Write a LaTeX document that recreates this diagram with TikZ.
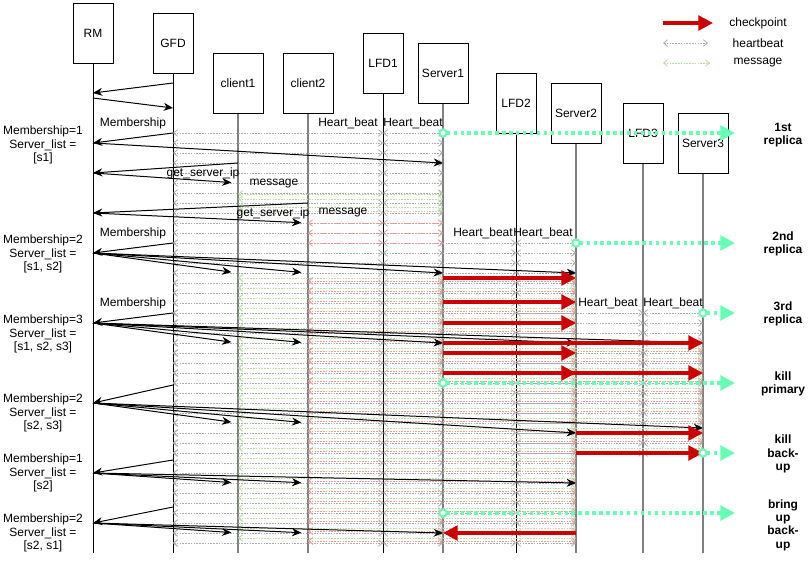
\documentclass[tikz,border=0pt]{standalone}
\usepackage{fontspec}
\setmainfont{Liberation Sans}
\usetikzlibrary{arrows.meta}
\definecolor{ckred}{HTML}{CC0000}
\definecolor{mint}{HTML}{66FFB3}
\definecolor{msggreen}{HTML}{B9E0A5}
\definecolor{msgpink}{HTML}{F19C99}
\tikzset{
  proc/.style={draw, minimum width=30pt, minimum height=45pt, inner sep=0pt, line width=0.75pt, font=\fontsize{9}{10}\selectfont},
  procw/.style={proc, minimum width=37.5pt},
  life/.style={line width=0.75pt},
  lifeg/.style={line width=1.5pt, draw=gray},
  msg/.style={-{Stealth[length=7pt,width=6pt]}, line width=0.75pt},
  msgc/.style={msg, shorten >=5pt},
  hb/.style={{Straight Barb[length=3pt,width=5pt,line width=0.6pt]}-{Straight Barb[length=3pt,width=5pt,line width=0.6pt]}, draw=gray!65, dash pattern=on 1.2pt off 0.9pt, line width=0.7pt},
  clgreen/.style={hb, draw=msggreen},
  clpink/.style={hb, draw=msgpink},
  ckpt/.style={-{Triangle[length=11pt,width=11pt]}, line width=2.6pt, draw=ckred},
  repl/.style={{Circle[length=7pt,line width=1.5pt,fill=white]}-{Triangle[length=11pt,width=11pt]}, dash pattern=on 2.6pt off 2.6pt, line width=2.6pt, draw=mint, shorten <=-3.5pt},
  lbl/.style={font=\fontsize{9}{10}\selectfont, inner sep=1pt},
  side/.style={lbl, align=center},
  tag/.style={font=\fontsize{9}{10}\selectfont\bfseries, align=center}
}
\begin{document}
\begin{tikzpicture}[x=0.75pt, y=-0.75pt]
\useasboundingbox (0,0) rectangle (809,561);
% participants
\node[proc]  (rm)   at (93,33)   {RM};
\node[proc]  (gfd)  at (173,43)  {GFD};
\node[procw] (c1)   at (238,83)  {client1};
\node[procw] (c2)   at (308,83)  {client2};
\node[proc]  (lfd1) at (383,63)  {LFD1};
\node[procw] (s1)   at (443,73)  {Server1};
\node[proc]  (lfd2) at (516,103) {LFD2};
\node[procw] (s2)   at (576,113) {Server2};
\node[proc]  (lfd3) at (643,133) {LFD3};
\node[procw] (s3)   at (703,143) {Server3};
% lifelines
\foreach \p in {rm,gfd,lfd1,lfd2}
  \draw[life] (\p.south) -- (\p |- 0,553);
\foreach \p in {c1,c2,s1,s2,lfd3,s3}
  \draw[lifeg] (\p.south) -- (\p |- 0,553);
% heartbeats
\foreach \y in {133,143,...,543} {
  \draw[hb] (gfd |- 0,\y) -- (lfd1 |- 0,\y);
  \draw[hb] (lfd1 |- 0,\y) -- (s1 |- 0,\y);
}
\foreach \y in {243,253,...,543} {
  \draw[hb] (gfd |- 0,\y) -- (lfd2 |- 0,\y);
  \draw[hb] (lfd2 |- 0,\y) -- (s2 |- 0,\y);
}
\foreach \y in {313,323,...,453} {
  \draw[hb] (gfd |- 0,\y) -- (lfd3 |- 0,\y);
  \draw[hb] (lfd3 |- 0,\y) -- (s3 |- 0,\y);
}
% client messages
\foreach \y in {194,199,207,211}
  \draw[clgreen] (c1 |- 0,\y) -- (s1 |- 0,\y);
\foreach \y in {223,233,243}
  \draw[clpink] (c2 |- 0,\y) -- (s1 |- 0,\y);
\foreach \y in {278,288,...,538} {
  \ifnum\y<383 \draw[clgreen] (c1 |- 0,\y) -- (s1 |- 0,\y); \fi
  \ifnum\y>510 \draw[clgreen] (c1 |- 0,\y) -- (s1 |- 0,\y); \fi
  \draw[clgreen] (c1 |- 0,\y) -- (s2 |- 0,\y);
  \ifnum\y>340 \ifnum\y<455 \draw[clgreen] (c1 |- 0,\y) -- (s3 |- 0,\y); \fi\fi
}
\foreach \y in {281,291,...,541} {
  \ifnum\y<383 \draw[clpink] (c2 |- 0,\y) -- (s1 |- 0,\y); \fi
  \ifnum\y>510 \draw[clpink] (c2 |- 0,\y) -- (s1 |- 0,\y); \fi
  \draw[clpink] (c2 |- 0,\y) -- (s2 |- 0,\y);
  \ifnum\y>340 \ifnum\y<455 \draw[clpink] (c2 |- 0,\y) -- (s3 |- 0,\y); \fi\fi
}
% registration and membership
\draw[msg] (gfd |- 0,83) -- (rm |- 0,93);
\draw[msg] (rm |- 0,98) -- (gfd |- 0,108);
\node[lbl] at (133,123) {Membership};
\draw[msg] (gfd |- 0,133) -- (rm |- 0,143);
\draw[msg] (rm |- 0,143) -- (s1 |- 0,163);
\draw[msg] (c1 |- 0,163) -- (rm |- 0,173);
\draw[msgc] (rm |- 0,173) -- (c1 |- 0,183);
\node[lbl] at (203,173) {get\_server\_ip};
\node[lbl] at (274,184) {message};
\draw[msg] (c2 |- 0,203) -- (rm |- 0,213);
\draw[msgc] (rm |- 0,213) -- (c2 |- 0,223);
\node[lbl] at (273,213) {get\_server\_ip};
\node[lbl] at (343,213) {message};
\node[lbl] at (133,233) {Membership};
\draw[msg] (gfd |- 0,243) -- (rm |- 0,253);
\foreach \p in {c1,c2} \draw[msgc] (rm |- 0,253) -- (\p |- 0,273);
\foreach \p in {s1,s2} \draw[msg] (rm |- 0,253) -- (\p |- 0,273);
\node[lbl] at (133,303) {Membership};
\draw[msg] (gfd |- 0,313) -- (rm |- 0,323);
\foreach \p in {c1,c2} \draw[msgc] (rm |- 0,323) -- (\p |- 0,343);
\foreach \p in {s1,s2,s3} \draw[msg] (rm |- 0,323) -- (\p |- 0,343);
\draw[msg] (gfd |- 0,385) -- (rm |- 0,403);
\foreach \p in {c1,c2} \draw[msgc] (rm |- 0,403) -- (\p |- 0,423);
\draw[msg] (rm |- 0,403) -- (s2 |- 0,433);
\draw[msg] (rm |- 0,403) -- (s3 |- 0,428);
\draw[msg] (gfd |- 0,460) -- (rm |- 0,473);
\foreach \p in {c1,c2} \draw[msgc] (rm |- 0,473) -- (\p |- 0,483);
\draw[msg] (rm |- 0,473) -- (s2 |- 0,483);
\draw[msg] (gfd |- 0,507) -- (rm |- 0,523);
\foreach \p in {c1,c2} \draw[msgc] (rm |- 0,523) -- (\p |- 0,533);
\draw[msg] (rm |- 0,523) -- (s1 |- 0,533);
% heart beat labels
\node[lbl] at (348,123) {Heart\_beat};
\node[lbl] at (413,123) {Heart\_beat};
\node[lbl] at (483,233) {Heart\_beat};
\node[lbl] at (543,233) {Heart\_beat};
\node[lbl] at (608,303) {Heart\_beat};
\node[lbl] at (673,303) {Heart\_beat};
% membership state
\node[side] (m1)  at (43,145) {Membership=1\\Server\_list =\\{[s1]}};
\node[side] (m2)  at (43,254) {Membership=2\\Server\_list =\\{[s1, s2]}};
\node[side] (m3)  at (43,334) {Membership=3\\Server\_list =\\{[s1, s2, s3]}};
\node[side] (m2b) at (43,413) {Membership=2\\Server\_list =\\{[s2, s3]}};
\node[side] (m1b) at (43,473) {Membership=1\\Server\_list =\\{[s2]}};
\node[side] (m2c) at (43,533) {Membership=2\\Server\_list =\\{[s2, s1]}};
% checkpoints
\foreach \y in {278,302,323,353,373}
  \draw[ckpt] (s1 |- 0,\y) -- (s2 |- 0,\y);
\foreach \y in {343,373}
  \draw[ckpt] (s1 |- 0,\y) -- (s3 |- 0,\y);
\foreach \y in {433,453}
  \draw[ckpt] (s2 |- 0,\y) -- (s3 |- 0,\y);
\draw[ckpt] (s2 |- 0,533) -- (s1 |- 0,533);
% events
\foreach \p/\y in {s1/133,s2/243,s3/313,s1/383,s3/453,s1/513} {
  \coordinate (e\y) at (735,\y);
  \draw[repl] (\p |- 0,\y) -- (e\y);
}
\node[tag] at (783,135) {1st\\replica};
\node[tag] at (783,244) {2nd\\replica};
\node[tag] at (783,314) {3rd\\replica};
\node[tag] at (783,384) {kill\\primary};
\node[tag] at (783,454) {kill\\back-\\up};
\node[tag] at (783,525) {bring\\up\\back-\\up};
% legend
\coordinate (lg1a) at (663,23); \coordinate (lg1b) at (713,23);
\coordinate (lg2a) at (663,43); \coordinate (lg2b) at (708,43);
\coordinate (lg3a) at (663,63); \coordinate (lg3b) at (710,63);
\draw[ckpt] (lg1a) -- (lg1b);
\draw[hb] (lg2a) -- (lg2b);
\draw[clgreen] (lg3a) -- (lg3b);
\node[lbl] at (758,23) {checkpoint};
\node[lbl] at (758,43) {heartbeat};
\node[lbl] at (758,63) {message};
\end{tikzpicture}
\end{document}
